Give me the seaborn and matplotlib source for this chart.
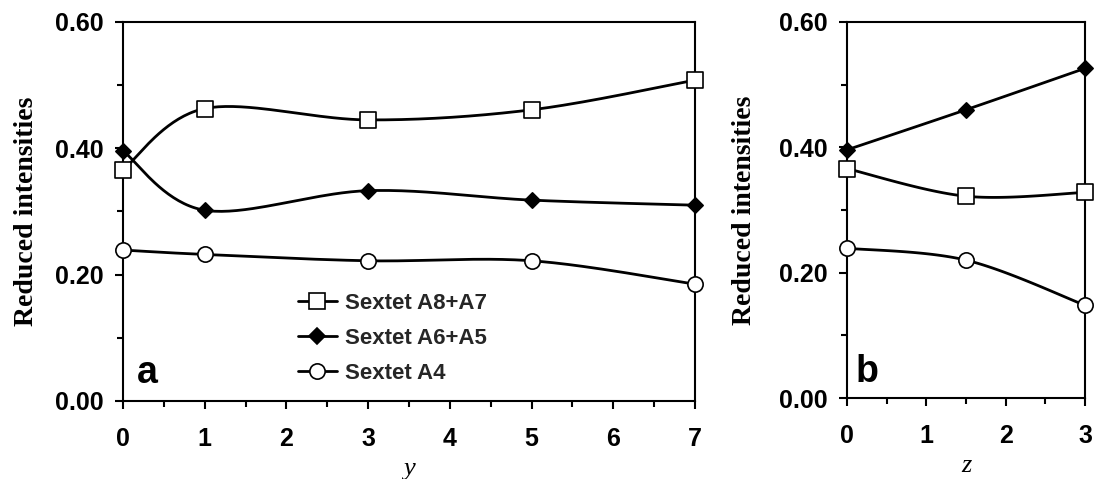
import numpy as np
import matplotlib
matplotlib.use("Agg")
import matplotlib.pyplot as plt
from matplotlib.lines import Line2D
from matplotlib.ticker import MultipleLocator, FormatStrFormatter
import seaborn as sns

# ---------------- data ----------------
# panel a (x = y composition)
y_a = [0, 1, 3, 5, 7]
a8a7_a = [0.366, 0.463, 0.445, 0.461, 0.508]
a6a5_a = [0.396, 0.302, 0.333, 0.318, 0.310]
a4_a = [0.239, 0.232, 0.222, 0.222, 0.185]

# panel b (x = z composition)
z_b = [0, 1.5, 3]
a8a7_b = [0.366, 0.322, 0.328]
a6a5_b = [0.396, 0.460, 0.526]
a4_b = [0.239, 0.220, 0.148]

series_labels = ["Sextet A8+A7", "Sextet A6+A5", "Sextet A4"]
y_ticks = [0.0, 0.2, 0.4, 0.6]

# ---------------- style ----------------
sns.set_theme(style="white")
plt.rcParams["font.family"] = ["Liberation Sans", "DejaVu Sans"]
plt.rcParams["font.weight"] = "bold"

marker_styles = [
    dict(marker="s", size=11, face="white"),
    dict(marker="D", size=7.8, face="black"),
    dict(marker="o", size=11, face="white"),
]
LW = 2.0


def smooth(xs, ys, n=40):
    """Excel-like smoothed line (Bezier through points, tangent/6)."""
    P = np.column_stack([xs, ys]).astype(float)
    m = len(P)
    out = [P[0]]
    t = np.linspace(0, 1, n)[1:, None]
    for i in range(m - 1):
        p0 = P[i - 1] if i > 0 else P[i]
        p1, p2 = P[i], P[i + 1]
        p3 = P[i + 2] if i + 2 < m else P[i + 1]
        b1 = p1 + (p2 - p0) / 6.0
        b2 = p2 - (p3 - p1) / 6.0
        seg = (1 - t) ** 3 * p1 + 3 * (1 - t) ** 2 * t * b1 + 3 * (1 - t) * t ** 2 * b2 + t ** 3 * p2
        out.extend(seg)
    out = np.array(out)
    return out[:, 0], out[:, 1]


def draw_panel(ax, xs, series, xlim, xlabel, letter, letter_pos, ylabel_x):
    for vals, st in zip(series, marker_styles):
        sx, sy = smooth(xs, vals)
        sns.lineplot(x=sx, y=sy, sort=False, estimator=None, color="black",
                     linewidth=LW, ax=ax, zorder=2)
        sns.scatterplot(x=xs, y=vals, marker=st["marker"], s=st["size"] ** 2,
                        color=st["face"], edgecolor="black", linewidth=1.2,
                        ax=ax, zorder=3, clip_on=False)
    ax.set_xlim(*xlim)
    ax.set_ylim(0, 0.6)
    ax.xaxis.set_major_locator(MultipleLocator(1))
    ax.xaxis.set_minor_locator(MultipleLocator(0.5))
    ax.set_yticks(y_ticks)
    ax.yaxis.set_minor_locator(MultipleLocator(0.1))
    ax.yaxis.set_major_formatter(FormatStrFormatter("%.2f"))
    ax.tick_params(axis="both", which="major", direction="out", length=6,
                   width=1.5, labelsize=18, color="black", labelcolor="black",
                   bottom=True, left=True, top=False, right=False)
    ax.tick_params(axis="both", which="minor", direction="out", length=4,
                   width=1.5, color="black", bottom=True, left=True,
                   top=False, right=False)
    ax.tick_params(axis="y", which="major", pad=8)
    ax.tick_params(axis="x", which="major", pad=13)
    for sp in ax.spines.values():
        sp.set_visible(True)
        sp.set_color("black")
        sp.set_linewidth(1.5)
    ax.set_ylabel("Reduced intensities", fontsize=20, fontweight="bold",
                  family=["Liberation Serif", "DejaVu Serif"], color="black")
    ax.yaxis.set_label_coords(ylabel_x, 0.5)
    ax.set_xlabel(xlabel, fontsize=19, fontweight="normal", style="italic",
                  family=["Liberation Serif", "DejaVu Serif"], color="black",
                  labelpad=5)
    ax.text(letter_pos[0], letter_pos[1], letter, transform=ax.transAxes,
            fontsize=27, fontweight="bold", va="baseline", ha="left",
            color="black")
    ax.grid(False)
    ax.set_facecolor("white")


fig = plt.figure(figsize=(10.96, 4.79), dpi=100)
fig.patch.set_facecolor("white")
ax_a = fig.add_axes([123 / 1096, 78 / 479, 572 / 1096, 379 / 479])
ax_b = fig.add_axes([847 / 1096, 81 / 479, 238 / 1096, 376 / 479])

draw_panel(ax_a, y_a, [a8a7_a, a6a5_a, a4_a], (0, 7), "y", "a",
           (0.025, 0.0475), -0.147)
draw_panel(ax_b, z_b, [a8a7_b, a6a5_b, a4_b], (0, 3), "z", "b",
           (0.034, 0.043), -0.378)

handles = [Line2D([0], [0], color="black", lw=LW, marker=st["marker"],
                  markersize=st["size"], markerfacecolor=st["face"],
                  markeredgecolor="black", markeredgewidth=1.2)
           for st in marker_styles]
ax_a.legend(handles, series_labels, loc="center left",
            bbox_to_anchor=(0.306, 0.166), frameon=False, borderpad=0,
            borderaxespad=0, handlelength=1.75, handletextpad=0.35,
            labelspacing=0.63, prop=dict(size=16, weight="bold"))

fig.savefig("out.png", dpi=100, facecolor="white")
